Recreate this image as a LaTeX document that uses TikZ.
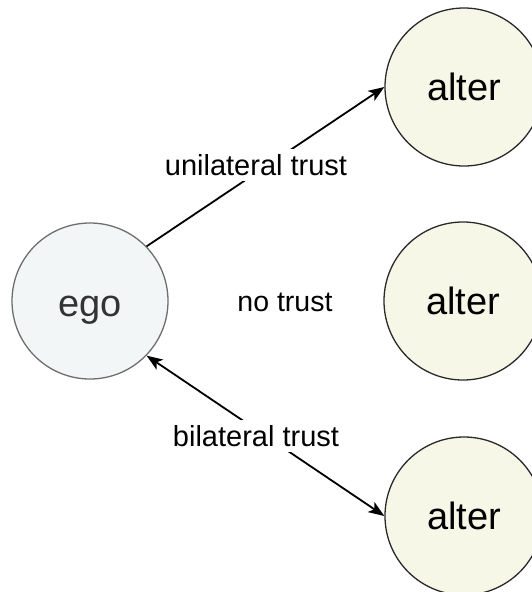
\documentclass[tikz,border=0pt]{standalone}
\usepackage{fontspec}
\setmainfont{Liberation Sans}
\usetikzlibrary{arrows.meta}
\definecolor{egofill}{HTML}{F3F6F6}
\definecolor{egoline}{HTML}{6E6E6E}
\definecolor{alterfill}{HTML}{F7F7E8}
\definecolor{alterline}{HTML}{2A2A2A}
\tikzset{
  egonode/.style={circle, draw=egoline, line width=1.3pt, fill=egofill, minimum size=156pt, inner sep=0pt, font=\fontsize{38}{40}\selectfont, text=black!80, text height=38pt, text depth=8pt},
  alternode/.style={circle, draw=alterline, line width=1.3pt, fill=alterfill, minimum size=158pt, inner sep=0pt, font=\fontsize{38}{40}\selectfont, text=black},
  conn/.style={line width=1.8pt, draw=black},
  lbl/.style={font=\fontsize{29}{31}\selectfont, fill=white, inner sep=5pt, text=black}
}
\begin{document}
\begin{tikzpicture}[x=1pt,y=-1pt,>={Stealth[length=16pt,width=12pt,inset=4pt]}]
\useasboundingbox (0,0) rectangle (531,592);
\node[egonode] (ego) at (90,301) {ego};
\node[alternode] (a1) at (464,87) {alter};
\node[alternode] (a2) at (463,301) {alter};
\node[alternode] (a3) at (464,516) {alter};
\draw[conn, ->] (ego.44) -- (a1.west);
\draw[conn, <->] (ego.-44) -- (a3.west);
\node[lbl] (l1) at (256,165) {unilateral trust};
\node[font=\fontsize{28.5}{30}\selectfont] (l2) at (285,302) {no trust};
\node[lbl] (l3) at (256,436) {bilateral trust};
\end{tikzpicture}
\end{document}
